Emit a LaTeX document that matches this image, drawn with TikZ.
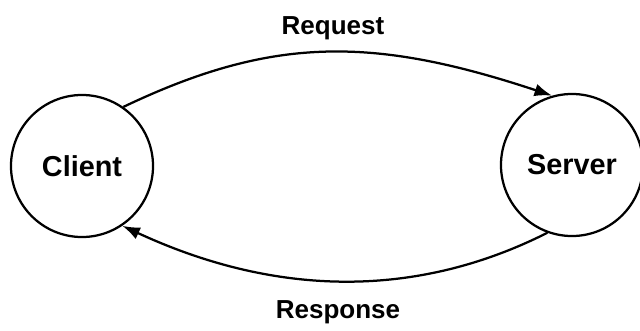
\documentclass[tikz,border=0pt]{standalone}
\usepackage{fontspec}
\setmainfont{Liberation Sans}
\usetikzlibrary{arrows.meta}

\begin{document}
\begin{tikzpicture}[
  x=0.025cm, y=-0.025cm,
  font=\bfseries,
  host/.style={draw, circle, line width=1.6pt, minimum size=3.55cm,
               inner sep=0pt, font=\bfseries\fontsize{20.5}{24}\selectfont},
  tag/.style={font=\bfseries\fontsize{18.5}{22}\selectfont},
  msg/.style={-{Latex[length=4.4mm, width=3.2mm]}, line width=1.6pt},
]
  \useasboundingbox (0,0) rectangle (640,330);

  \node[host] (client) at (82,166)  {Client};
  \node[host] (server) at (572,165) {Server};

  % request goes over the top, response comes back underneath
  \draw[msg] (client.55) .. controls (272,36) and (372,36) .. (server.106);
  \draw[msg] (server.250) .. controls (418,298) and (278,298) .. (client.-56);

  \node[tag] (req) at (333,28)  {Request};
  \node[tag] (resp) at (338,312) {Response};
\end{tikzpicture}
\end{document}
